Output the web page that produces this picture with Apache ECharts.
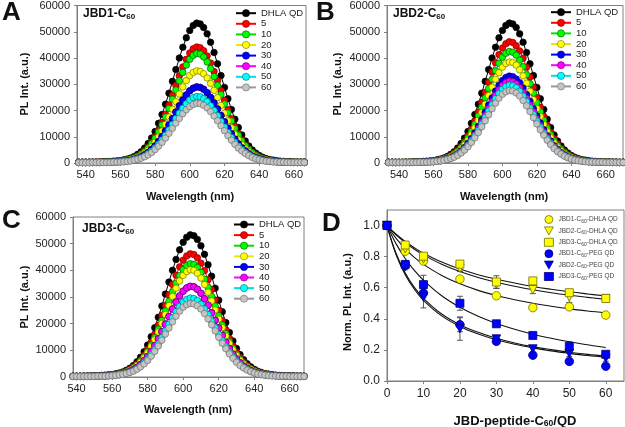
<!DOCTYPE html>
<html><head><meta charset="utf-8">
<script src="https://cdn.jsdelivr.net/npm/echarts@6/dist/echarts.min.js"></script>
<style>html,body{margin:0;padding:0;background:#fff}#c{width:625px;height:427px}</style>
</head><body><div id="c"></div>
<script>
// ---------- spectra data (panels A, B, C) ----------
const wavelengths = [534,536,538,540,542,544,546,548,550,552,554,556,558,560,562,564,566,568,570,572,574,576,578,580,582,584,586,588,590,592,594,596,598,600,602,604,606,608,610,612,614,616,618,620,622,624,626,628,630,632,634,636,638,640,642,644,646,648,650,652,654,656,658,660,662,664,666,668,670];
const specNames = ['DHLA QD','5','10','20','30','40','50','60'];

const specDHLA = [300,300,300,300,300,400,400,400,500,500,600,700,800,900,1200,1500,1900,2500,3300,4300,5700,7400,9500,12000,15100,18500,22400,26600,31100,35600,40000,44100,47700,50500,52400,53300,53000,51600,49200,46000,42100,37800,33300,28800,24500,20400,16700,13500,10700,8400,6500,5000,3800,2900,2200,1700,1300,1100,900,700,600,500,500,400,400,400,400,300,300];
const specA5 = [300,300,300,300,300,300,300,400,400,400,500,600,700,800,1000,1200,1600,2100,2700,3600,4700,6100,7900,10000,12500,15400,18600,22100,25800,29500,33200,36600,39500,41900,43500,44200,43900,42800,40800,38100,34900,31400,27600,23900,20300,16900,13900,11200,8900,6900,5400,4100,3100,2400,1800,1400,1100,900,700,600,500,500,400,400,300,300,300,300,300];
const specA10 = [300,300,300,300,300,300,300,300,400,400,500,500,600,700,900,1200,1500,2000,2600,3400,4400,5800,7400,9400,11800,14500,17500,20800,24300,27800,31300,34500,37300,39500,41000,41700,41500,40400,38500,36000,32900,29600,26100,22500,19100,16000,13100,10600,8400,6600,5100,3900,3000,2200,1700,1300,1000,800,700,600,500,400,400,400,300,300,300,300,300];
const specA20 = [200,200,200,200,200,200,300,300,300,300,400,400,500,600,800,1000,1300,1600,2200,2900,3700,4900,6200,7900,9900,12200,14700,17500,20500,23400,26300,29000,31400,33300,34500,35100,34900,34000,32400,30300,27700,24900,21900,19000,16100,13400,11000,8900,7000,5500,4300,3300,2500,1900,1400,1100,900,700,600,500,400,400,300,300,300,300,200,200,200];
const specA30 = [200,200,200,200,200,200,200,200,300,300,300,400,400,500,600,800,1000,1400,1800,2400,3100,4000,5200,6500,8200,10100,12200,14500,16900,19400,21800,24000,25900,27500,28500,29000,28800,28100,26800,25000,22900,20600,18100,15700,13300,11100,9100,7300,5800,4600,3500,2700,2100,1600,1200,900,700,600,500,400,300,300,300,200,200,200,200,200,200];
const specA40 = specA30;
const specA50 = [200,200,200,200,200,200,200,200,200,200,300,300,400,500,600,700,900,1200,1600,2100,2700,3500,4500,5700,7100,8800,10600,12600,14700,16900,19000,20900,22600,24000,24900,25300,25200,24500,23400,21800,20000,18000,15800,13700,11600,9700,7900,6400,5100,4000,3100,2400,1800,1400,1000,800,600,500,400,300,300,300,200,200,200,200,200,200,200];
const specA60 = [100,100,100,100,100,200,200,200,200,200,200,300,300,400,500,600,800,1100,1400,1800,2400,3100,4000,5100,6400,7900,9500,11300,13200,15200,17000,18800,20300,21500,22300,22700,22600,22000,21000,19600,17900,16100,14200,12300,10400,8700,7100,5700,4600,3600,2800,2100,1600,1200,900,700,600,400,400,300,300,200,200,200,200,200,200,100,100];

const specBC5 = [300,300,300,300,300,300,300,400,400,500,500,600,700,800,1000,1300,1700,2200,2900,3800,4900,6400,8200,10400,13000,16000,19400,23100,26900,30800,34700,38200,41300,43800,45400,46200,45900,44700,42700,39900,36500,32800,28900,25000,21200,17700,14500,11700,9300,7300,5600,4300,3300,2500,1900,1500,1100,900,700,600,500,500,400,400,400,300,300,300,300];
const specBC10 = [300,300,300,300,300,300,300,300,400,400,500,500,600,800,900,1200,1500,2000,2600,3500,4500,5900,7600,9600,12000,14800,17900,21200,24800,28400,31900,35200,38000,40300,41800,42500,42200,41100,39200,36700,33600,30200,26600,23000,19500,16300,13300,10800,8500,6700,5200,4000,3000,2300,1700,1300,1100,800,700,600,500,400,400,400,300,300,300,300,300];
const specB20 = [200,200,200,200,300,300,300,300,300,400,400,500,600,700,900,1100,1400,1800,2400,3100,4100,5300,6900,8700,10900,13400,16200,19200,22400,25700,28900,31900,34400,36500,37900,38500,38300,37300,35500,33200,30400,27300,24100,20800,17700,14700,12100,9700,7700,6100,4700,3600,2700,2100,1600,1200,1000,800,600,500,500,400,400,300,300,300,300,200,200];
const specB30 = [200,200,200,200,200,200,200,300,300,300,400,400,500,600,700,900,1200,1600,2000,2700,3500,4600,5900,7500,9300,11500,13900,16500,19300,22100,24800,27400,29600,31400,32600,33100,32900,32000,30600,28600,26100,23500,20700,17900,15200,12700,10400,8400,6600,5200,4000,3100,2300,1800,1400,1000,800,700,500,500,400,300,300,300,300,200,200,200,200];
const specB40 = [200,200,200,200,200,200,200,300,300,300,300,400,500,600,700,900,1100,1500,1900,2500,3300,4300,5600,7000,8800,10800,13100,15600,18200,20800,23400,25800,27900,29600,30700,31200,31000,30200,28800,26900,24600,22100,19500,16900,14300,11900,9800,7900,6300,4900,3800,2900,2200,1700,1300,1000,800,600,500,400,400,300,300,300,200,200,200,200,200];
const specBC50 = [200,200,200,200,200,200,200,200,300,300,300,400,400,500,700,800,1100,1400,1800,2400,3200,4100,5300,6700,8400,10300,12400,14800,17300,19800,22200,24500,26500,28100,29100,29600,29400,28700,27300,25500,23400,21000,18500,16000,13600,11300,9300,7500,5900,4700,3600,2800,2100,1600,1200,900,700,600,500,400,300,300,300,200,200,200,200,200,200];
const specBC60 = [200,200,200,200,200,200,200,200,200,300,300,300,400,500,600,800,1000,1300,1700,2200,2900,3800,4900,6200,7800,9600,11600,13800,16100,18400,20700,22800,24700,26200,27100,27600,27400,26700,25500,23800,21800,19600,17300,14900,12700,10600,8700,7000,5500,4300,3400,2600,2000,1500,1100,900,700,500,400,400,300,300,300,200,200,200,200,200,200];
const specC20 = [200,200,200,200,300,300,300,300,400,400,400,500,600,700,900,1100,1400,1900,2500,3300,4300,5600,7200,9100,11400,14000,16900,20100,23400,26800,30200,33300,36000,38100,39500,40200,40000,38900,37100,34700,31800,28500,25100,21700,18500,15400,12600,10200,8100,6300,4900,3700,2900,2200,1700,1300,1000,800,700,500,500,400,400,300,300,300,300,300,200];
const specC30 = [200,200,200,200,200,200,300,300,300,300,400,400,500,600,800,1000,1200,1600,2100,2800,3600,4700,6100,7700,9600,11800,14300,17000,19800,22700,25500,28100,30400,32200,33400,34000,33800,32900,31400,29300,26900,24100,21300,18400,15600,13000,10700,8600,6800,5300,4100,3200,2400,1800,1400,1100,800,700,600,500,400,400,300,300,300,200,200,200,200];
const specC40 = specC30;

const specXTicks = [540,560,580,600,620,640,660];
const specYTicks = [0,10000,20000,30000,40000,50000,60000];

// ---------- panel D data ----------
const ratio = [0,5,10,20,30,40,50,60];
const dNames = ['JBD1-C60-DHLA QD','JBD2-C60-DHLA QD','JBD3-C60-DHLA QD','JBD1-C60-PEG QD','JBD2-C60-PEG QD','JBD3-C60-PEG QD'];
const jbd1Dhla = [1.0,0.835,0.772,0.656,0.548,0.472,0.477,0.424];
const jbd2Dhla = [1.0,0.850,0.785,0.725,0.625,0.587,0.540,0.530];
const jbd3Dhla = [1.0,0.875,0.803,0.752,0.637,0.644,0.568,0.531];
const jbd1Peg  = [1.0,0.745,0.566,0.362,0.255,0.166,0.126,0.095];
const jbd2Peg  = [1.0,0.735,0.540,0.337,0.270,0.206,0.177,0.147];
const jbd3Peg  = [1.0,0.750,0.620,0.500,0.368,0.293,0.222,0.172];
const err1Dhla = [0,0.010,0.015,0.010,0.015,0.010,0.010,0.010];
const err2Dhla = [0,0.020,0.030,0.020,0.030,0.025,0.035,0.020];
const err3Dhla = [0,0.015,0.015,0.015,0.040,0.015,0.020,0.015];
const err1Peg  = [0,0.015,0.030,0.045,0.015,0.010,0.010,0.010];
const err2Peg  = [0,0.020,0.070,0.075,0.020,0.020,0.020,0.020];
const err3Peg  = [0,0.020,0.060,0.045,0.015,0.015,0.030,0.015];
const fitX     = [0,2.5,5,7.5,10,15,20,25,30,35,40,45,50,55,60];
const fit1Dhla = [1,0.917,0.850,0.795,0.750,0.679,0.625,0.583,0.550,0.523,0.500,0.481,0.464,0.450,0.438];
const fit2Dhla = [1,0.940,0.890,0.847,0.811,0.751,0.704,0.666,0.635,0.609,0.587,0.568,0.552,0.538,0.525];
const fit3Dhla = [1,0.944,0.897,0.857,0.822,0.765,0.720,0.684,0.655,0.630,0.608,0.590,0.574,0.560,0.547];
const fit1Peg  = [1,0.812,0.684,0.590,0.519,0.419,0.351,0.302,0.265,0.236,0.213,0.194,0.178,0.164,0.153];
const fit2Peg  = [1,0.820,0.694,0.602,0.532,0.431,0.362,0.313,0.275,0.245,0.221,0.202,0.185,0.171,0.159];
const fit3Peg  = [1,0.882,0.788,0.711,0.648,0.548,0.474,0.416,0.370,0.333,0.301,0.275,0.252,0.233,0.215];
const dXTicks = [0,10,20,30,40,50,60];
const dYTicks = [0,0.2,0.4,0.6,0.8,1.0];

// ---------- styling ----------
const FF = '"Liberation Sans", Arial, sans-serif';
const fillCols = ['#000000','#ff0000','#00ff00','#ffff00','#0000ff','#ff00ff','#00ffff','#c4c4c4'];
const edgeCols = ['#000000','#7a0000','#006000','#777700','#000070','#700070','#007070','#6e6e6e'];
const lineCols = ['#000000','#ff0000','#00e000','#e8e800','#0000ff','#ff00ff','#00e0e0','#999999'];
const axisGray = '#808080';

const chart = echarts.init(document.getElementById('c'), null, {renderer: 'canvas'});

const grids = [
  {left: 77, top: 5, width: 229, height: 158},
  {left: 387, top: 5, width: 236, height: 158},
  {left: 73, top: 217, width: 231, height: 160},
  {left: 387, top: 210, width: 237, height: 171}
].map(g => Object.assign(g, {show: true, borderColor: axisGray, borderWidth: 1, backgroundColor: 'transparent', containLabel: false}));

function xSpec(gi, mn, mx) {
  return {type: 'value', gridIndex: gi, min: mn, max: mx,
    axisLine: {show: true, onZero: false, lineStyle: {color: axisGray}},
    axisTick: {show: true, inside: false, length: 3, lineStyle: {color: axisGray}, customValues: specXTicks},
    axisLabel: {color: '#222', fontSize: 11, fontFamily: FF, margin: 6, customValues: specXTicks},
    splitLine: {show: false}};
}
function ySpec(gi) {
  return {type: 'value', gridIndex: gi, min: 0, max: 60000, interval: 10000,
    axisLine: {show: true, onZero: false, lineStyle: {color: axisGray}},
    axisTick: {show: true, inside: false, length: 3, lineStyle: {color: axisGray}, customValues: specYTicks},
    axisLabel: {color: '#222', fontSize: 11, fontFamily: FF, margin: 7, customValues: specYTicks, formatter: v => String(v)},
    splitLine: {show: false}};
}
const xAxes = [xSpec(0, 535, 667), xSpec(1, 533, 670), xSpec(2, 538, 668), {type: 'value', gridIndex: 3, min: 0, max: 65,
    axisLine: {show: true, onZero: false, lineStyle: {color: axisGray}},
    axisTick: {show: true, inside: false, length: 3, lineStyle: {color: axisGray}, customValues: dXTicks},
    axisLabel: {color: '#222', fontSize: 12, fontFamily: FF, margin: 7, customValues: dXTicks},
    splitLine: {show: false}}];
const yAxes = [ySpec(0), ySpec(1), ySpec(2), {type: 'value', gridIndex: 3, min: 0, max: 1.1,
    axisLine: {show: true, onZero: false, lineStyle: {color: axisGray}},
    axisTick: {show: true, inside: false, length: 3, lineStyle: {color: axisGray}, customValues: dYTicks},
    axisLabel: {color: '#222', fontSize: 12, fontFamily: FF, margin: 7, customValues: dYTicks, formatter: v => v.toFixed(1)},
    splitLine: {show: false}}];

function specSeries(gi, name, arr, ci) {
  return {type: 'line', name: name, xAxisIndex: gi, yAxisIndex: gi,
    data: wavelengths.map((w, i) => [w, arr[i]]),
    symbol: 'circle', symbolSize: 6.5, showSymbol: true, showAllSymbol: true, clip: true,
    lineStyle: {color: lineCols[ci], width: 1},
    itemStyle: {color: fillCols[ci], borderColor: edgeCols[ci], borderWidth: 0.7},
    emphasis: {disabled: true}, silent: true};
}

const series = [];
// panel A (40 drawn underneath 30)
[[0,specDHLA],[1,specA5],[2,specA10],[3,specA20],[5,specA40],[4,specA30],[6,specA50],[7,specA60]]
  .forEach(([ci, arr]) => series.push(specSeries(0, specNames[ci], arr, ci)));
// panel B
[[0,specDHLA],[1,specBC5],[2,specBC10],[3,specB20],[4,specB30],[5,specB40],[6,specBC50],[7,specBC60]]
  .forEach(([ci, arr]) => series.push(specSeries(1, specNames[ci], arr, ci)));
// panel C
[[0,specDHLA],[1,specBC5],[2,specBC10],[3,specC20],[4,specC30],[5,specC40],[6,specBC50],[7,specBC60]]
  .forEach(([ci, arr]) => series.push(specSeries(2, specNames[ci], arr, ci)));

// panel D
const dSets = [
  {name: dNames[0], y: jbd1Dhla, e: err1Dhla, fit: fit1Dhla, symbol: 'circle', rot: 0, fill: '#ffff00', edge: '#707000', size: 8.5},
  {name: dNames[1], y: jbd2Dhla, e: err2Dhla, fit: fit2Dhla, symbol: 'triangle', rot: 180, fill: '#ffff00', edge: '#707000', size: 8.5},
  {name: dNames[2], y: jbd3Dhla, e: err3Dhla, fit: fit3Dhla, symbol: 'rect', rot: 0, fill: '#ffff00', edge: '#707000', size: 8},
  {name: dNames[3], y: jbd1Peg, e: err1Peg, fit: fit1Peg, symbol: 'circle', rot: 0, fill: '#0000ff', edge: '#000080', size: 8.5},
  {name: dNames[4], y: jbd2Peg, e: err2Peg, fit: fit2Peg, symbol: 'triangle', rot: 180, fill: '#0000ff', edge: '#000080', size: 8.5},
  {name: dNames[5], y: jbd3Peg, e: err3Peg, fit: fit3Peg, symbol: 'rect', rot: 0, fill: '#0000ff', edge: '#000080', size: 8}
];
const errData = [];
dSets.forEach(s => s.y.forEach((v, i) => { if (s.e[i] > 0) errData.push([ratio[i], v - s.e[i], v + s.e[i]]); }));
series.push({type: 'custom', name: 'err', xAxisIndex: 3, yAxisIndex: 3, silent: true, z: 1,
  encode: {x: 0, y: [1, 2]}, data: errData,
  renderItem: (params, api) => {
    const x = api.value(0);
    const p1 = api.coord([x, api.value(1)]);
    const p2 = api.coord([x, api.value(2)]);
    const w = 3, st = {stroke: '#555', lineWidth: 1};
    return {type: 'group', children: [
      {type: 'line', shape: {x1: p1[0], y1: p1[1], x2: p2[0], y2: p2[1]}, style: st},
      {type: 'line', shape: {x1: p1[0]-w, y1: p1[1], x2: p1[0]+w, y2: p1[1]}, style: st},
      {type: 'line', shape: {x1: p2[0]-w, y1: p2[1], x2: p2[0]+w, y2: p2[1]}, style: st}
    ]};
  }});
dSets.forEach(s => series.push({type: 'line', name: s.name + ' fit', xAxisIndex: 3, yAxisIndex: 3,
  data: fitX.map((x, i) => [x, s.fit[i]]), smooth: 0.4, showSymbol: false, symbol: 'none', silent: true, z: 2,
  lineStyle: {color: '#111', width: 1.1}}));
dSets.forEach(s => series.push({type: 'scatter', name: s.name, xAxisIndex: 3, yAxisIndex: 3,
  data: ratio.map((x, i) => [x, s.y[i]]), symbol: s.symbol, symbolRotate: s.rot, symbolSize: s.size, clip: false, z: 3,
  itemStyle: {color: s.fill, borderColor: s.edge, borderWidth: 0.8, opacity: 1}, emphasis: {disabled: true}, silent: true}));

function specLegend(left, top) {
  return {orient: 'vertical', left: left, top: top, padding: 0, itemWidth: 20, itemHeight: 9, itemGap: 0.6,
    selectedMode: false, data: specNames,
    itemStyle: {borderWidth: 0.6},
    textStyle: {fontSize: 9.5, color: '#222', fontFamily: FF, lineHeight: 9}};
}
const invTri = 'path://M0,0L10,0L5,9Z';
const legends = [
  specLegend(235, 8.2), specLegend(550, 7.2), specLegend(233, 219.5),
  {orient: 'vertical', left: 544, top: 215, padding: 0, itemWidth: 9, itemHeight: 8, itemGap: 2.4,
    selectedMode: false,
    data: dSets.map(s => s.symbol === 'triangle' ? {name: s.name, icon: invTri} : {name: s.name}),
    itemStyle: {borderWidth: 0.8},
    formatter: name => { const p = name.split('C60'); return '{t|' + p[0] + 'C}{s|60}{t|' + p[1] + '}'; },
    textStyle: {fontSize: 6.5, color: '#444', fontFamily: FF, lineHeight: 8,
      rich: {t: {fontSize: 6.5, color: '#444', fontFamily: FF, lineHeight: 8},
             s: {fontSize: 5, color: '#444', fontFamily: FF, lineHeight: 5, padding: [4, 0, 0, 0]}}}}
];

const subRich = (fs, sfs, pad) => ({t: {fontSize: fs, fontWeight: 'bold', fontFamily: FF, fill: '#111', lineHeight: fs},
  s: {fontSize: sfs, fontWeight: 'bold', fontFamily: FF, fill: '#111', lineHeight: sfs, padding: [pad, 0, 0, 0]}});
function txt(x, y, text, font, opts) {
  return Object.assign({type: 'text', x: x, y: y, silent: true,
    style: Object.assign({text: text, font: font, fill: '#111', textAlign: 'left', textVerticalAlign: 'middle'}, opts && opts.style || {})},
    opts && opts.el || {});
}
const graphics = [
  txt(2, 12.5, 'A', 'bold 26px ' + FF),
  txt(316, 12.5, 'B', 'bold 26px ' + FF),
  txt(2, 221, 'C', 'bold 26px ' + FF),
  txt(322, 224, 'D', 'bold 26px ' + FF),
  txt(83, 14, '{t|JBD1-C}{s|60}', 'bold 12px ' + FF, {style: {rich: subRich(12, 8, 6)}}),
  txt(393, 14, '{t|JBD2-C}{s|60}', 'bold 12px ' + FF, {style: {rich: subRich(12, 8, 6)}}),
  txt(82, 229, '{t|JBD3-C}{s|60}', 'bold 12px ' + FF, {style: {rich: subRich(12, 8, 6)}}),
  txt(190, 197, 'Wavelength (nm)', 'bold 11px ' + FF, {style: {textAlign: 'center'}}),
  txt(504, 197, 'Wavelength (nm)', 'bold 11px ' + FF, {style: {textAlign: 'center'}}),
  txt(188, 410, 'Wavelength (nm)', 'bold 11px ' + FF, {style: {textAlign: 'center'}}),
  txt(515, 421, '{t|JBD-peptide-C}{s|60}{t|/QD}', 'bold 13px ' + FF, {style: {textAlign: 'center', rich: subRich(13, 8.5, 6)}}),
  txt(25, 84, 'PL Int. (a.u.)', 'bold 11px ' + FF, {style: {textAlign: 'center'}, el: {rotation: Math.PI / 2}}),
  txt(338, 84, 'PL Int. (a.u.)', 'bold 11px ' + FF, {style: {textAlign: 'center'}, el: {rotation: Math.PI / 2}}),
  txt(25, 297, 'PL Int. (a.u.)', 'bold 11px ' + FF, {style: {textAlign: 'center'}, el: {rotation: Math.PI / 2}}),
  txt(348, 302, 'Norm. PL Int. (a.u.)', 'bold 11px ' + FF, {style: {textAlign: 'center'}, el: {rotation: Math.PI / 2}})
];

chart.setOption({
  animation: false,
  backgroundColor: '#ffffff',
  textStyle: {fontFamily: FF},
  grid: grids,
  xAxis: xAxes,
  yAxis: yAxes,
  legend: legends,
  series: series,
  graphic: graphics
});
</script></body></html>
